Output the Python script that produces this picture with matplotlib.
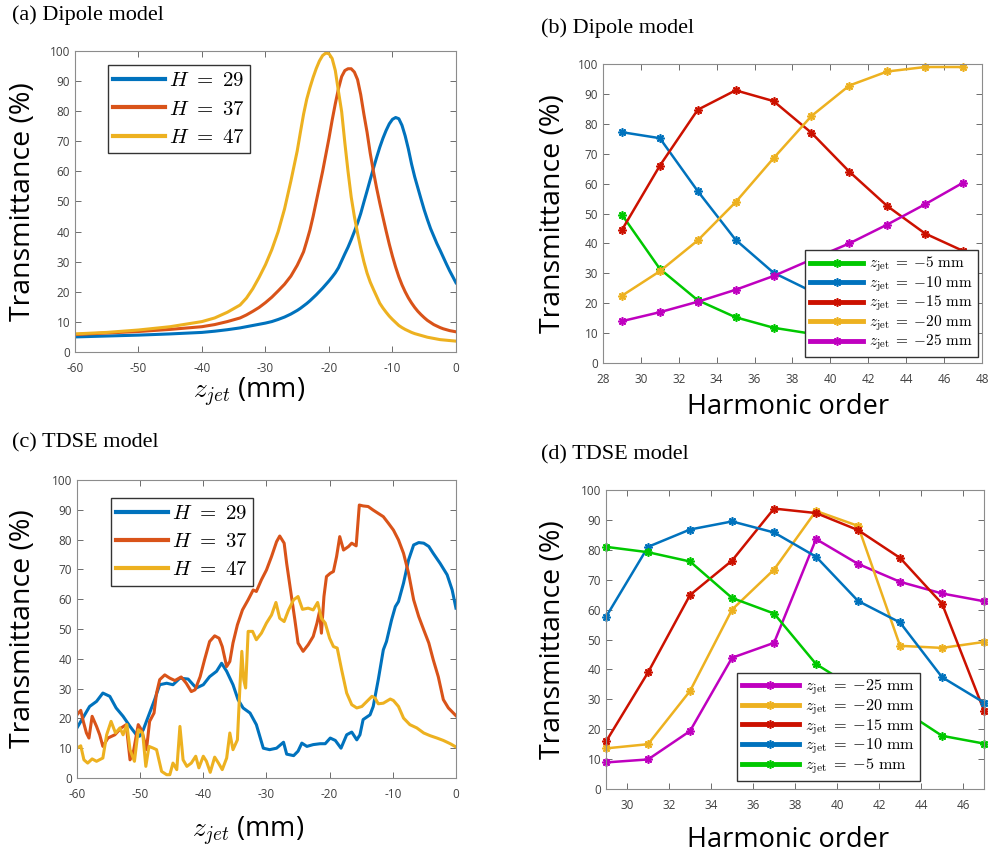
import matplotlib
matplotlib.use('Agg')
import matplotlib.pyplot as plt

plt.rcParams['font.family'] = ['Open Sans', 'DejaVu Sans']
plt.rcParams['mathtext.fontset'] = 'cm'
plt.rcParams['axes.unicode_minus'] = False

# ---- panel (a): dipole model, transmittance vs jet position
za = [-60, -55, -50, -45, -40, -38, -36, -34, -33, -32, -31, -30, -29, -28, -27, -26, -25,
      -24.5, -24, -23.5, -23, -22.5, -22, -21.5, -21, -20.5, -20, -19.5, -19, -18.5, -18,
      -17.5, -17, -16.5, -16, -15.5, -15, -14.5, -14, -13.5, -13, -12.5, -12, -11.5, -11,
      -10.5, -10, -9.5, -9, -8.5, -8, -7.5, -7, -6.5, -6, -5.5, -5, -4.5, -4, -3.5, -3,
      -2.5, -2, -1.5, -1, -0.5, 0]
a_h29 = [5.0, 5.3, 5.6, 6.0, 6.5, 6.9, 7.4, 8.0, 8.4, 8.8, 9.2, 9.6, 10.1, 10.8, 11.6, 12.6,
         13.8, 14.5, 15.3, 16.1, 17.0, 18.0, 19.0, 20.1, 21.2, 22.4, 23.6, 24.9, 26.3, 28.0,
         30.3, 32.6, 34.8, 37.3, 40.0, 42.8, 46.0, 49.8, 53.5, 57.3, 61.0, 64.6, 68.0, 71.0,
         73.6, 75.8, 77.3, 77.9, 77.5, 75.3, 71.8, 67.5, 62.5, 58.2, 54.5, 50.8, 47.2, 44.0,
         41.0, 38.5, 36.0, 33.8, 31.5, 29.2, 27.0, 25.0, 23.0]
a_h37 = [5.8, 6.3, 6.8, 7.5, 8.4, 9.1, 10.1, 11.3, 12.3, 13.5, 14.8, 16.4, 18.2, 20.3, 22.5,
         25.2, 28.8, 31.0, 33.3, 36.8, 40.5, 45.0, 50.0, 55.0, 60.0, 65.5, 71.0, 77.0, 82.5,
         87.5, 91.5, 93.5, 94.1, 94.1, 93.0, 90.5, 85.5, 79.0, 73.0, 66.0, 60.0, 54.5, 49.5,
         44.8, 40.2, 35.8, 31.8, 28.2, 25.0, 22.3, 20.0, 18.0, 16.3, 14.8, 13.5, 12.4, 11.4,
         10.5, 9.8, 9.1, 8.6, 8.1, 7.7, 7.4, 7.1, 6.9, 6.7]
a_h47 = [6.0, 6.5, 7.3, 8.4, 10.1, 11.3, 13.2, 15.6, 17.9, 21.0, 24.8, 29.0, 34.0, 40.0, 47.5,
         56.8, 66.8, 73.0, 79.0, 84.0, 87.8, 91.2, 94.2, 96.7, 98.5, 99.3, 99.1, 97.5, 93.5,
         86.5, 79.8, 69.5, 60.0, 51.5, 45.0, 39.5, 34.5, 30.0, 26.2, 23.2, 20.8, 18.5, 16.2,
         14.6, 13.2, 11.9, 10.8, 9.8, 8.8, 8.1, 7.5, 7.0, 6.5, 6.1, 5.8, 5.5, 5.2, 4.9, 4.7,
         4.5, 4.3, 4.1, 4.0, 3.9, 3.8, 3.7, 3.6]

# ---- panel (c): TDSE model
zc_h29 = [-60, -58, -56.9, -55.9, -54.8, -53.8, -52.7, -51.6, -50.6, -50.1, -49.5, -48.7, -47.7,
          -46.9, -45.8, -44.8, -43.7, -42.4, -41.6, -41.1, -40, -39, -37.9, -37.1, -36.3, -35.3,
          -34.5, -33.7, -32.6, -31.6, -30.5, -29.5, -28.4, -27.3, -26.8, -25.7, -25, -24.4,
          -23.6, -22.6, -21.5, -20.7, -19.9, -19.1, -18.2, -17.3, -16.5, -15.7, -15.2, -14.7,
          -13.6, -13.1, -12.3, -11.5, -11, -10.2, -9.6, -9.1, -8.3, -7.5, -6.7, -5.9, -5.1,
          -4.3, -3.6, -2.5, -1.4, -0.6, 0]
c_h29 = [16.8, 24, 25.7, 28.5, 27.4, 23.5, 20.7, 17.3, 14.5, 14, 16.2, 20.7, 26.3, 31.3, 31.8,
         31.3, 33.5, 33.2, 31.3, 30.2, 31.3, 34, 35.8, 38.5, 35.8, 31.3, 26.3, 23.5, 21.8, 17.9,
         10, 9.5, 10, 12, 8, 7.5, 9, 11.7, 10.6, 11.2, 11.5, 11.5, 13.4, 12.6, 10, 14.5, 15.4,
         12.8, 14.5, 19.6, 21.2, 24, 33, 43, 45.8, 53, 57.5, 59.2, 65.4, 73.2, 78.2, 79, 78.8,
         77.7, 75.4, 72, 68.2, 63.1, 57]
zc_h37 = [-60, -59.4, -59, -58.5, -58.1, -57.6, -56.9, -56.4, -55.9, -55.1, -54, -53, -52.2,
          -51.6, -51.1, -50.3, -49.8, -49.3, -49, -48.5, -47.8, -47.4, -46.9, -46.1, -45.3,
          -44.5, -43.5, -42.7, -41.9, -41.3, -40.5, -39.8, -39, -38.2, -37.5, -37, -36.3, -35.8,
          -35.3, -34.6, -33.8, -32.9, -32.1, -31.6, -30.8, -30, -29.2, -28.4, -27.9, -27.2,
          -26.8, -26, -25.5, -25, -24.2, -23.4, -22.6, -22, -21.6, -21.3, -20.9, -20.5, -19.9,
          -19.4, -18.9, -18.4, -17.8, -17, -16.5, -15.8, -15.3, -14.7, -13.9, -13.1, -12.3,
          -11.5, -10.7, -9.9, -9.1, -8.3, -7.5, -6.7, -5.9, -5.1, -4.3, -3.6, -2.8, -2, -1.2, 0]
c_h37 = [21.2, 22.7, 19, 15.1, 13.4, 20.7, 17.3, 14.5, 10.6, 13.4, 14.5, 16.8, 17.9, 6.1, 8.4,
         17.9, 16.2, 12.3, 9.5, 19, 21.8, 28.5, 33, 34.6, 33.5, 32.7, 33.9, 31.8, 29, 29.6, 34,
         39.7, 45.8, 47.7, 46.9, 44.1, 37.4, 39.1, 45.3, 51.4, 56.4, 59.8, 63.1, 62.6, 66.5,
         69.8, 74.3, 79.3, 81.2, 78.8, 72, 60.3, 53, 45.3, 42.5, 44.7, 47.5, 52, 55.9, 48.6,
         60.9, 67.6, 68.7, 69.3, 74.3, 81, 76.5, 77.7, 78.8, 77.9, 91.6, 91.3, 91.1, 89.9, 88.8,
         87.7, 85.5, 83.2, 79.9, 75.4, 68.7, 59.8, 54.2, 49.7, 45.3, 39.7, 34, 26.3, 23.5, 20.9]
zc_h47 = [-60, -59.4, -58.9, -58.3, -57.6, -56.9, -55.9, -55.3, -54.6, -53.9, -53.2, -52.7,
          -52.1, -51.6, -50.9, -50.3, -49.6, -49.1, -48.6, -47.9, -47.4, -46.6, -45.8, -45.3,
          -44.8, -44.2, -43.7, -43.2, -42.6, -41.9, -41.2, -40.7, -40, -39.5, -38.9, -38.2,
          -37.6, -37, -36.3, -35.8, -35.3, -34.6, -34.2, -33.9, -33.6, -33.3, -32.9, -32.2,
          -31.6, -30.8, -30, -29.2, -28.5, -27.9, -27.2, -26.5, -25.7, -25, -24.3, -23.4, -22.6,
          -21.9, -21.3, -20.7, -20, -19.4, -18.8, -18.1, -17.3, -16.5, -15.7, -14.9, -14.1,
          -13.3, -12.8, -12.3, -11.5, -10.4, -9.9, -9.1, -8.3, -7.3, -6.2, -5.1, -4.1, -3, -2,
          -0.9, 0]
c_h47 = [10, 10.8, 6.1, 5, 6.4, 5.6, 6.7, 14.5, 19, 15.1, 16.8, 14.5, 17.9, 9.5, 5.6, 16.2, 15.1,
         3.9, 10.6, 10, 9.5, 2.2, 1.1, 1.1, 5, 2.8, 17.3, 6.1, 3.9, 5, 7.3, 3.4, 7.3, 5.6, 1.9, 7,
         5, 2.8, 6.7, 15.1, 9.5, 12.8, 30.7, 42.5, 33, 30.2, 49.2, 49.2, 46.4, 48.6, 52, 54.7,
         58.9, 53.6, 52.5, 56.4, 59.8, 60.9, 56.6, 57, 56.4, 58.9, 53.6, 52, 46.9, 44.1, 43.6,
         36.3, 28.5, 24.6, 23.5, 24, 25.7, 27.4, 26.8, 24.9, 25.1, 26.5, 26, 24, 20.1, 17.9,
         16.8, 15.1, 14.2, 13.4, 12.6, 11.5, 10.4]

# ---- panels (b) and (d): transmittance vs harmonic order
harm = [29, 31, 33, 35, 37, 39, 41, 43, 45, 47]
b_m5 = [49.6, 31.5, 21, 15.3, 11.8, 9.8, 8, 6.8, 6, 5.3]
b_m10 = [77.2, 75.2, 57.5, 41.2, 30.2, 24, 19, 15.5, 13, 11]
b_m15 = [44.5, 66, 84.7, 91.2, 87.6, 77, 64, 52.5, 43.3, 37.5]
b_m20 = [22.5, 30.7, 41, 53.8, 68.5, 82.6, 92.8, 97.5, 99, 99]
b_m25 = [14, 17, 20.5, 24.5, 29.1, 34.6, 40, 46.3, 53.1, 60.3]

d_m25 = [8.9, 9.9, 19.4, 43.9, 48.9, 83.6, 75.3, 69.3, 65.4, 62.8]
d_m20 = [13.6, 15, 32.8, 60, 73.4, 93, 88, 47.9, 47.2, 49.2]
d_m15 = [15.9, 39, 64.9, 76.4, 93.8, 92.3, 86.6, 77.3, 62, 26.2]
d_m10 = [57.6, 81, 86.8, 89.5, 85.8, 77.7, 62.9, 55.7, 37.4, 28.9]
d_m5 = [81, 79.2, 76.1, 63.9, 58.7, 41.8, 33, 27, 17.8, 15.2]

blue, orange, yellow = '#0072BD', '#D95319', '#EDB120'
green, red, magenta = '#00C800', '#CC1100', '#BF00BF'
star = (8, 2, 0)

fig = plt.figure(figsize=(9.88, 8.57), dpi=100)
axa = fig.add_axes([0.0759, 0.5893, 0.3856, 0.3512])
axb = fig.add_axes([0.6103, 0.5764, 0.3836, 0.3489])
axc = fig.add_axes([0.0779, 0.0922, 0.3836, 0.3477])
axd = fig.add_axes([0.6134, 0.0793, 0.3826, 0.3489])


def style(ax, xlabel, xlab_x, xlab_y, ylab_x):
    ax.tick_params(direction='in', top=True, right=True, length=4, width=0.6,
                   labelsize=8.5, color='#555555', labelcolor='#404040')
    ax.tick_params(axis='x', pad=7)
    for s in ax.spines.values():
        s.set_color('#8c8c8c')
        s.set_linewidth(0.8)
    ax.set_ylim(0, 100)
    ax.set_yticks(range(0, 101, 10))
    ax.set_ylabel('Transmittance (%)', fontsize=20.5, va='center')
    ax.yaxis.set_label_coords(ylab_x, 0.5)
    ax.set_xlabel(xlabel, fontsize=19.5, va='center')
    ax.xaxis.set_label_coords(xlab_x, xlab_y)


def zlab(v):
    return r'$z_{\rm jet} \;=\; {-}%d\ \rm mm$' % v


hleg = dict(fontsize=15, handlelength=2.5, labelspacing=0.35, handletextpad=0.2,
            borderpad=0.25, fancybox=False, edgecolor='#333333', framealpha=1,
            borderaxespad=0)

# (a)
axa.plot(za, a_h29, color=blue, lw=2.2, label=r'$H\ =\ 29$')
axa.plot(za, a_h37, color=orange, lw=2.2, label=r'$H\ =\ 37$')
axa.plot(za, a_h47, color=yellow, lw=2.2, label=r'$H\ =\ 47$')
axa.set_xlim(-60, 0)
axa.set_xticks(range(-60, 1, 10))
style(axa, r'$z_{jet}$ (mm)', 0.457, -0.136, -0.136)
leg = axa.legend(loc='upper left', bbox_to_anchor=(0.0866, 0.953), **hleg)
for l in leg.get_lines():
    l.set_linewidth(3)

# (c)
axc.plot(zc_h29, c_h29, color=blue, lw=2.2, label=r'$H\ =\ 29$')
axc.plot(zc_h37, c_h37, color=orange, lw=2.2, label=r'$H\ =\ 37$')
axc.plot(zc_h47, c_h47, color=yellow, lw=2.2, label=r'$H\ =\ 47$')
axc.set_xlim(-60, 0)
axc.set_xticks(range(-60, 1, 10))
style(axc, r'$z_{jet}$ (mm)', 0.451, -0.18, -0.142)
leg = axc.legend(loc='upper left', bbox_to_anchor=(0.089, 0.9406), **hleg)
for l in leg.get_lines():
    l.set_linewidth(3)

# (b)
kw = dict(lw=1.8, marker=star, ms=6, mew=1.2, clip_on=False)
axb.plot(harm, b_m5, color=green, label=zlab(5), **kw)
axb.plot(harm, b_m10, color=blue, label=zlab(10), **kw)
axb.plot(harm, b_m15, color=red, label=zlab(15), **kw)
axb.plot(harm, b_m20, color=yellow, label=zlab(20), **kw)
axb.plot(harm, b_m25, color=magenta, label=zlab(25), **kw)
axb.set_xlim(28, 48)
axb.set_xticks(range(28, 49, 2))
style(axb, 'Harmonic order', 0.488, -0.146, -0.132)
leg = axb.legend(loc='lower right', bbox_to_anchor=(0.9887, 0.02), fontsize=11,
                 handlelength=3.5, labelspacing=0.0, handletextpad=0.4, borderpad=0.3,
                 fancybox=False, edgecolor='#333333', framealpha=1, borderaxespad=0)
for l in leg.get_lines():
    l.set_linewidth(3.5)

# (d)
axd.plot(harm, d_m25, color=magenta, label=zlab(25), **kw)
axd.plot(harm, d_m20, color=yellow, label=zlab(20), **kw)
axd.plot(harm, d_m15, color=red, label=zlab(15), **kw)
axd.plot(harm, d_m10, color=blue, label=zlab(10), **kw)
axd.plot(harm, d_m5, color=green, label=zlab(5), **kw)
axd.set_xlim(29, 47)
axd.set_xticks(range(30, 47, 2))
style(axd, 'Harmonic order', 0.481, -0.17, -0.14)
leg = axd.legend(loc='lower left', bbox_to_anchor=(0.3458, 0.0268), fontsize=11.7,
                 handlelength=3.5, labelspacing=0.0, handletextpad=0.4, borderpad=0.3,
                 fancybox=False, edgecolor='#333333', framealpha=1, borderaxespad=0)
for l in leg.get_lines():
    l.set_linewidth(3.5)

# panel titles
serif = dict(family='Liberation Serif', fontsize=16, va='center')
fig.text(12 / 988, 1 - 15 / 857, '(a) Dipole model', **serif)
fig.text(541 / 988, 1 - 28.5 / 857, '(b) Dipole model', **serif)
fig.text(12 / 988, 1 - 443 / 857, '(c) TDSE model', **serif)
fig.text(541 / 988, 1 - 455 / 857, '(d) TDSE model', **serif)

fig.savefig('out.png', dpi=100)
